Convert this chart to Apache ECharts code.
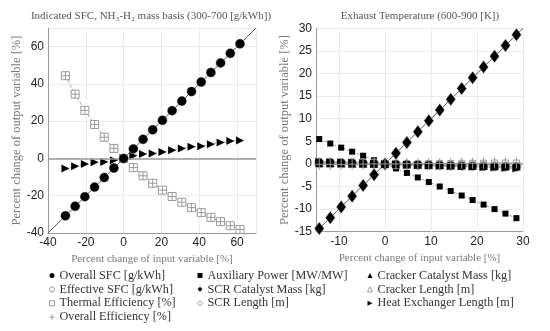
<!DOCTYPE html>
<html><head><meta charset="utf-8">
<script src="https://cdn.jsdelivr.net/npm/echarts@6/dist/echarts.min.js"></script>
<style>html,body{margin:0;padding:0;background:#fff}#c{width:550px;height:331px}</style>
</head><body><div id="c"></div>
<script>
// ---- data (left panel: Indicated SFC varied) ----
const xLeft = [-30.77,-25.64,-20.51,-15.38,-10.26,-5.13,0,5.13,10.26,15.38,20.51,25.64,30.77,35.90,41.03,46.15,51.28,56.41,61.54];
const overallSfcLeft = [-30.77,-25.64,-20.51,-15.38,-10.26,-5.13,0,5.13,10.26,15.38,20.51,25.64,30.77,35.90,41.03,46.15,51.28,56.41,61.54];
const effectiveSfcLeft = [-30.77,-25.64,-20.51,-15.38,-10.26,-5.13,0,5.13,10.26,15.38,20.51,25.64,30.77,35.90,41.03,46.15,51.28,56.41,61.54];
const thermalEffLeft = [44.4,34.5,25.8,18.2,11.4,5.4,0,-4.9,-9.3,-13.3,-17.0,-20.4,-23.5,-26.4,-29.1,-31.6,-33.9,-36.1,-38.1];
const overallEffLeft = [44.4,34.5,25.8,18.2,11.4,5.4,0,-4.9,-9.3,-13.3,-17.0,-20.4,-23.5,-26.4,-29.1,-31.6,-33.9,-36.1,-38.1];
const heatExLeft = [-5.4,-4.2,-3.0,-2.1,-1.9,-1.0,0,1.4,2.4,2.6,3.4,4.4,5.4,6.3,6.6,7.6,8.5,9.3,9.7];

// ---- data (right panel: Exhaust temperature varied) ----
const xRight = [-14.29,-11.90,-9.52,-7.14,-4.76,-2.38,0,2.38,4.76,7.14,9.52,11.90,14.29,16.67,19.05,21.43,23.81,26.19,28.57];
const auxPowerRight = [5.5,4.5,3.6,2.7,1.8,0.8,0,-1.0,-2.0,-3.0,-4.0,-5.0,-6.0,-7.0,-8.0,-9.0,-10.0,-11.0,-12.0];
const scrMassRight = [-14.29,-11.90,-9.52,-7.14,-4.76,-2.38,0,2.38,4.76,7.14,9.52,11.90,14.29,16.67,19.05,21.43,23.81,26.19,28.57];
const scrLengthRight = [-14.29,-11.90,-9.52,-7.14,-4.76,-2.38,0,2.38,4.76,7.14,9.52,11.90,14.29,16.67,19.05,21.43,23.81,26.19,28.57];
const overallSfcRight = [0.3,0.3,0.25,0.2,0.15,0.1,0,-0.1,-0.15,-0.2,-0.25,-0.3,-0.35,-0.4,-0.45,-0.5,-0.55,-0.6,-0.65];
const effectiveSfcRight = [0.3,0.3,0.25,0.2,0.15,0.1,0,-0.1,-0.15,-0.2,-0.25,-0.3,-0.35,-0.4,-0.45,-0.5,-0.55,-0.6,-0.65];
const thermalEffRight = [-0.1,-0.1,-0.1,-0.05,-0.05,0,0,0,0.05,0.05,0.1,0.1,0.1,0.15,0.15,0.15,0.2,0.2,0.2];
const overallEffRight = [-0.1,-0.1,-0.1,-0.05,-0.05,0,0,0,0.05,0.05,0.1,0.1,0.1,0.15,0.15,0.15,0.2,0.2,0.2];
const crackerMassRight = [0.2,0.2,0.15,0.1,0.1,0.05,0,-0.05,-0.1,-0.15,-0.2,-0.25,-0.3,-0.3,-0.35,-0.4,-0.45,-0.5,-0.5];
const crackerLengthRight = [0.2,0.2,0.15,0.1,0.1,0.05,0,-0.05,-0.1,-0.15,-0.2,-0.25,-0.3,-0.3,-0.35,-0.4,-0.45,-0.5,-0.5];
const heatExRight = [0.5,0.4,0.35,0.3,0.2,0.1,0,-0.1,-0.2,-0.3,-0.35,-0.45,-0.5,-0.6,-0.65,-0.75,-0.8,-0.9,-1.0];

// ---- axes / text ----
const leftRange = [-40, 70];
const rightXRange = [-15, 30];
const rightYRange = [-15, 30];
const rightXGrid = [-10, 0, 10, 20, 30];
const leftTitle = 'Indicated SFC, NH\u2083-H\u2082 mass basis (300-700 [g/kWh])';
const rightTitle = 'Exhaust Temperature (600-900 [K])';
const xName = 'Percent change of input variable [%]';
const yName = 'Percent change of output variable [%]';
const legendCol1 = ['Overall SFC [g/kWh]','Effective SFC [g/kWh]','Thermal Efficiency [%]','Overall Efficiency [%]'];
const legendCol2 = ['Auxiliary Power [MW/MW]','SCR Catalyst Mass [kg]','SCR Length [m]'];
const legendCol3 = ['Cracker Catalyst Mass [kg]','Cracker Length [m]','Heat Exchanger Length [m]'];

const zip = (xs, ys) => xs.map((x, i) => [x, ys[i]]);
const SERIF = 'Liberation Serif';
const SANS = 'Liberation Sans';
const PLUS = 'path://M5,0L5,10M0,5L10,5';
const RTRI = 'path://M0,0L10,5L0,10Z';
const GRAY = '#9a9a9a';
const DASH = {color: '#8a8a8a', width: 0.8, type: [3, 2]};

const filled = (c='#000') => ({color: c, borderColor: c, borderWidth: 0});
const open = {color: '#fff', borderColor: GRAY, borderWidth: 1};
const plusStyle = {color: 'transparent', borderColor: GRAY, borderWidth: 1};

function ser(name, gi, xs, ys, symbol, size, itemStyle, line, z) {
  return {
    name, type: 'line', xAxisIndex: gi, yAxisIndex: gi,
    data: zip(xs, ys), symbol, symbolSize: size, showAllSymbol: true,
    itemStyle, lineStyle: line ? line : {opacity: 0}, z: z || 3,
    emphasis: {disabled: true}, animation: false, silent: true
  };
}

const legendStyles = {
  'Overall SFC [g/kWh]': {icon: 'circle', itemStyle: filled()},
  'Effective SFC [g/kWh]': {icon: 'circle', itemStyle: open},
  'Thermal Efficiency [%]': {icon: 'rect', itemStyle: open},
  'Overall Efficiency [%]': {icon: PLUS, itemStyle: plusStyle},
  'Auxiliary Power [MW/MW]': {icon: 'rect', itemStyle: filled()},
  'SCR Catalyst Mass [kg]': {icon: 'diamond', itemStyle: filled()},
  'SCR Length [m]': {icon: 'diamond', itemStyle: open},
  'Cracker Catalyst Mass [kg]': {icon: 'triangle', itemStyle: filled()},
  'Cracker Length [m]': {icon: 'triangle', itemStyle: open},
  'Heat Exchanger Length [m]': {icon: RTRI, itemStyle: filled()}
};
function legend(names, left) {
  return {
    orient: 'vertical', left, top: 268.5, itemGap: 0, itemWidth: 5, itemHeight: 5,
    padding: 0, height: 62,
    selectedMode: false,
    textStyle: {fontFamily: SERIF, fontSize: 12.2, color: '#333', lineHeight: 13.9},
    data: names.map(n => Object.assign({name: n}, legendStyles[n]))
  };
}

const axisCommon = {
  type: 'value',
  axisLine: {show: true, onZero: false, lineStyle: {color: '#9a9a9a', width: 1}},
  axisTick: {show: false},
  axisLabel: {fontFamily: SANS, fontSize: 12, color: '#222', margin: 4},
  splitLine: {show: true, lineStyle: {color: '#ebebeb', width: 1}},
  nameLocation: 'middle',
  nameTextStyle: {fontFamily: SERIF, color: '#7a7a7a'}
};

const chart = echarts.init(document.getElementById('c'), null, {renderer: 'canvas'});
chart.setOption({
  animation: false,
  backgroundColor: '#fff',
  title: [
    {text: leftTitle, left: 151, top: 11, textAlign: 'center', padding: 0,
     textStyle: {fontFamily: SERIF, fontSize: 11, fontWeight: 'normal', color: '#555'}},
    {text: rightTitle, left: 420, top: 11, textAlign: 'center', padding: 0,
     textStyle: {fontFamily: SERIF, fontSize: 11, fontWeight: 'normal', color: '#555'}}
  ],
  grid: [
    {left: 48, top: 28, width: 208, height: 205},
    {left: 316, top: 28.3, width: 207, height: 203.4}
  ],
  xAxis: [
    Object.assign({}, axisCommon, {gridIndex: 0, min: leftRange[0], max: leftRange[1], interval: 20,
      axisLabel: Object.assign({}, axisCommon.axisLabel, {showMaxLabel: false}),
      name: xName, nameGap: 19, nameTextStyle: {fontFamily: SERIF, fontSize: 11, color: '#7a7a7a'}}),
    Object.assign({}, axisCommon, {gridIndex: 1, min: rightXRange[0], max: rightXRange[1], interval: 5,
      splitLine: {show: false},
      axisLabel: Object.assign({}, axisCommon.axisLabel, {formatter: v => (Math.round(v) % 10 === 0 ? String(v) : '')}),
      name: xName, nameGap: 19, nameTextStyle: {fontFamily: SERIF, fontSize: 11, color: '#7a7a7a'}})
  ],
  yAxis: [
    Object.assign({}, axisCommon, {gridIndex: 0, min: leftRange[0], max: leftRange[1], interval: 20,
      axisLabel: Object.assign({}, axisCommon.axisLabel, {showMaxLabel: false}),
      name: yName, nameGap: 22, nameTextStyle: {fontFamily: SERIF, fontSize: 12.5, color: '#7a7a7a'}}),
    Object.assign({}, axisCommon, {gridIndex: 1, min: rightYRange[0], max: rightYRange[1], interval: 5,
      name: yName, nameGap: 22, nameTextStyle: {fontFamily: SERIF, fontSize: 12.5, color: '#7a7a7a'}})
  ],
  legend: [legend(legendCol1, 49), legend(legendCol2, 197), legend(legendCol3, 367)],
  series: [
    // reference lines, left
    {type: 'line', xAxisIndex: 0, yAxisIndex: 0, data: [[leftRange[0], leftRange[0]], [leftRange[1], leftRange[1]]],
     symbol: 'none', lineStyle: {color: '#555', width: 1}, z: 2, silent: true,
     markLine: {silent: true, symbol: 'none', label: {show: false},
       lineStyle: {color: '#9a9a9a', width: 1.5, type: 'solid'}, data: [{yAxis: 0}]}},
    // reference lines, right
    {type: 'line', xAxisIndex: 1, yAxisIndex: 1, data: [[rightXRange[0], rightYRange[0]], [rightXRange[1], rightYRange[1]]],
     symbol: 'none', lineStyle: {color: '#555', width: 1}, z: 2, silent: true,
     markLine: {silent: true, symbol: 'none', label: {show: false}, z: 1,
       lineStyle: {color: '#ebebeb', width: 1, type: 'solid'},
       data: rightXGrid.map(v => ({xAxis: v})).concat([{yAxis: 0, lineStyle: {color: '#9a9a9a', width: 1.5}}])}},

    // left panel
    ser('Thermal Efficiency [%]', 0, xLeft, thermalEffLeft, 'rect', 8, open, DASH),
    ser('Overall Efficiency [%]', 0, xLeft, overallEffLeft, PLUS, 8, plusStyle, null, 4),
    ser('Heat Exchanger Length [m]', 0, xLeft, heatExLeft, RTRI, 8, filled(), DASH),
    ser('Effective SFC [g/kWh]', 0, xLeft, effectiveSfcLeft, 'circle', 9, open),
    ser('Overall SFC [g/kWh]', 0, xLeft, overallSfcLeft, 'circle', 9, filled(), null, 5),

    // right panel
    ser('Auxiliary Power [MW/MW]', 1, xRight, auxPowerRight, 'rect', 6, filled(), DASH),
    ser('Thermal Efficiency [%]', 1, xRight, thermalEffRight, 'rect', 6, open),
    ser('Effective SFC [g/kWh]', 1, xRight, effectiveSfcRight, 'circle', 9, open),
    ser('Cracker Length [m]', 1, xRight, crackerLengthRight, 'triangle', 8, open),
    ser('Overall SFC [g/kWh]', 1, xRight, overallSfcRight, 'circle', 8, filled(), DASH, 5),
    ser('Cracker Catalyst Mass [kg]', 1, xRight, crackerMassRight, 'triangle', 8, filled(), null, 5),
    ser('Heat Exchanger Length [m]', 1, xRight, heatExRight, RTRI, 8, filled(), DASH, 5),
    ser('Overall Efficiency [%]', 1, xRight, overallEffRight, PLUS, 11, plusStyle, null, 6),
    ser('SCR Length [m]', 1, xRight, scrLengthRight, 'diamond', [9, 12], open),
    ser('SCR Catalyst Mass [kg]', 1, xRight, scrMassRight, 'diamond', [9, 12], filled(), null, 5)
  ]
});
</script></body></html>
